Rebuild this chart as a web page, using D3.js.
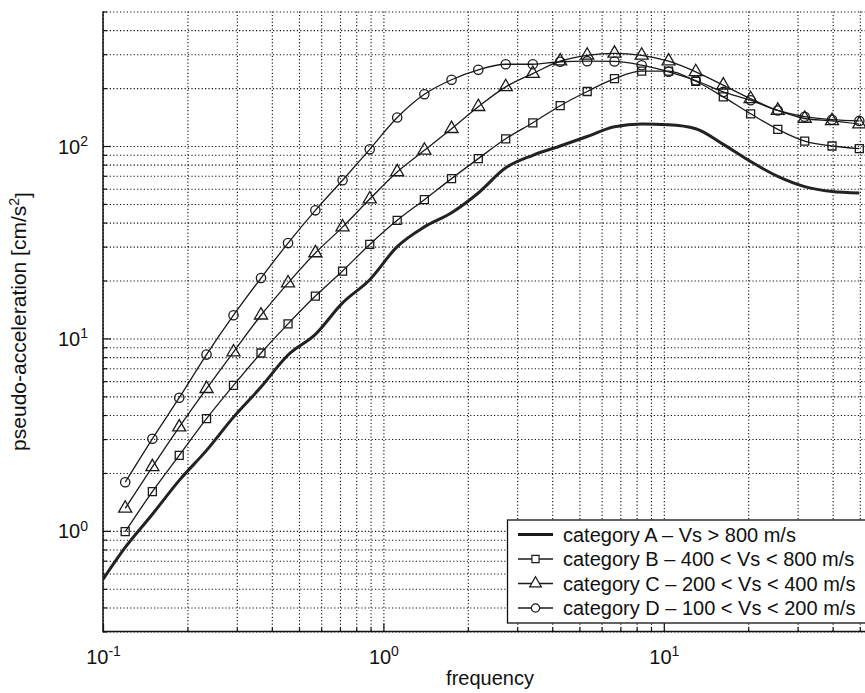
<!DOCTYPE html>
<html>
<head>
<meta charset="utf-8">
<script src="https://cdn.jsdelivr.net/npm/d3@7"></script>
<style>
body { margin: 0; background: #fff; }
text { font-family: "Liberation Sans", Arial, sans-serif; fill: #111; }
</style>
</head>
<body>
<script>
// frequencies of the marked curves (B, C, D)
var freq = [0.12, 0.15, 0.187, 0.234, 0.292, 0.366, 0.457, 0.572, 0.715, 0.894,
            1.12, 1.40, 1.75, 2.18, 2.73, 3.41, 4.27, 5.33, 6.67, 8.34,
            10.4, 13.0, 16.3, 20.4, 25.5, 31.8, 39.8, 49.8];

// category A is drawn without markers and starts at the left edge
var freqA = [0.1, 0.12, 0.15, 0.187, 0.234, 0.292, 0.366, 0.457, 0.572, 0.715, 0.894,
             1.12, 1.40, 1.75, 2.18, 2.73, 3.41, 4.27, 5.33, 6.67, 8.34,
             10.4, 13.0, 16.3, 20.4, 25.5, 31.8, 39.8, 49.8];
var valuesA = [0.56, 0.82, 1.22, 1.83, 2.62, 3.9, 5.59, 8.2, 10.5, 15.3, 20.2,
               30, 38, 45, 57, 77, 89.5, 100, 112, 126, 130,
               129, 123, 102, 83, 69.5, 61.5, 58, 57];

var valuesB = [0.99, 1.60, 2.47, 3.83, 5.70, 8.40, 11.9, 16.6, 22.4, 30.8,
               41.1, 52.6, 67.7, 86, 109, 132, 162, 192, 224, 245,
               245, 217, 180, 147, 122, 106, 100, 97];

var valuesC = [1.31, 2.15, 3.46, 5.48, 8.50, 13.2, 19.4, 27.8, 37.9, 53,
               73.3, 95, 123, 160, 203, 238, 276, 296, 303, 296,
               276, 243, 207, 176, 153, 139, 135, 130];

var valuesD = [1.79, 3.01, 4.92, 8.24, 13.2, 20.6, 31.3, 46.3, 66.4, 96.1,
               140.6, 185.7, 221, 249, 266, 266, 274, 276, 275, 263,
               243, 219, 191, 173, 153, 142, 137, 135];

var legendLabels = ["category A \u2013 Vs > 800 m/s",
                    "category B \u2013 400 < Vs < 800 m/s",
                    "category C \u2013 200 < Vs < 400 m/s",
                    "category D \u2013 100 < Vs < 200 m/s"];

var xLabelMajor = [0.1, 1, 10];
var yLabelMajor = [1, 10, 100];

var svgWidth = 865;
var svgHeight = 693;

var plot = { left: 103, top: 11.5, bottom: 631.5, right: 882 };

var svg = d3.select("body").append("svg")
    .attr("width", svgWidth)
    .attr("height", svgHeight);

var x = d3.scaleLog().domain([0.1, 60]).range([plot.left, plot.right]);
var y = d3.scaleLog().domain([0.3, 500]).range([plot.bottom, plot.top]);

var plotH = plot.bottom - plot.top;
var plotW = plot.right - plot.left;

var isMajor = d => Math.abs(Math.log10(d) - Math.round(Math.log10(d))) < 1e-9;

// dotted grid on every decade subdivision
svg.append("g")
    .attr("transform", `translate(0,${plot.bottom})`)
    .call(d3.axisBottom(x).tickValues(x.ticks()).tickSize(-plotH).tickFormat(""))
    .call(g => g.select(".domain").remove())
    .selectAll("line")
    .attr("stroke", "#111")
    .attr("stroke-width", 1.1)
    .attr("stroke-dasharray", "1.2,2.2");

svg.append("g")
    .attr("transform", `translate(${plot.left},0)`)
    .call(d3.axisLeft(y).tickValues(y.ticks()).tickSize(-plotW).tickFormat(""))
    .call(g => g.select(".domain").remove())
    .selectAll("line")
    .attr("stroke", "#111")
    .attr("stroke-width", 1.1)
    .attr("stroke-dasharray", "1.2,2.2");

// inward ticks, minor then major
svg.append("g")
    .attr("transform", `translate(0,${plot.bottom})`)
    .call(d3.axisBottom(x).tickValues(x.ticks().filter(d => !isMajor(d))).tickSize(-4).tickSizeOuter(0).tickFormat(""))
    .call(g => g.select(".domain").remove());
svg.append("g")
    .attr("transform", `translate(0,${plot.bottom})`)
    .call(d3.axisBottom(x).tickValues(xLabelMajor).tickSize(-8).tickSizeOuter(0).tickFormat(""))
    .call(g => g.select(".domain").remove());
svg.append("g")
    .attr("transform", `translate(${plot.left},0)`)
    .call(d3.axisLeft(y).tickValues(y.ticks().filter(d => !isMajor(d))).tickSize(-4).tickSizeOuter(0).tickFormat(""))
    .call(g => g.select(".domain").remove());
svg.append("g")
    .attr("transform", `translate(${plot.left},0)`)
    .call(d3.axisLeft(y).tickValues(yLabelMajor).tickSize(-8).tickSizeOuter(0).tickFormat(""))
    .call(g => g.select(".domain").remove());

svg.selectAll(".tick line").filter(function() { return !this.getAttribute("stroke-dasharray"); })
    .attr("stroke", "#111").attr("stroke-width", 1.2);

// power-of-ten labels
function powerLabel(sel) {
    sel.each(function(d) {
        var t = d3.select(this).text(null);
        t.append("tspan").text("10");
        t.append("tspan").attr("dy", "-0.55em").attr("font-size", "14px")
            .text(Math.round(Math.log10(d)));
    });
}

svg.append("g")
    .attr("transform", `translate(0,${plot.bottom})`)
    .call(d3.axisBottom(x).tickValues(xLabelMajor).tickSize(0).tickFormat(d => d))
    .call(g => g.select(".domain").remove())
    .selectAll("text")
    .attr("font-size", "20px")
    .attr("fill", "#111")
    .attr("dy", null)
    .attr("y", 32)
    .call(powerLabel);

svg.append("g")
    .attr("transform", `translate(${plot.left},0)`)
    .call(d3.axisLeft(y).tickValues(yLabelMajor).tickSize(0).tickPadding(15).tickFormat(d => d))
    .call(g => g.select(".domain").remove())
    .selectAll("text")
    .attr("font-size", "20px")
    .attr("fill", "#111")
    .attr("dy", "0.35em")
    .call(powerLabel);

// axis frame (left and bottom)
svg.append("path")
    .attr("d", `M${plot.left},${plot.top}V${plot.bottom}H${plot.right}`)
    .attr("fill", "none")
    .attr("stroke", "#111")
    .attr("stroke-width", 1.5);

// axis titles
svg.append("text")
    .attr("x", 490)
    .attr("y", 685)
    .attr("text-anchor", "middle")
    .attr("font-size", "20px")
    .text("frequency");

var yTitle = svg.append("text")
    .attr("transform", `translate(26,${(plot.top + plot.bottom) / 2}) rotate(-90)`)
    .attr("text-anchor", "middle")
    .attr("font-size", "21px");
yTitle.append("tspan").text("pseudo-acceleration [cm/s");
yTitle.append("tspan").attr("dy", "-0.5em").attr("font-size", "14px").text("2");
yTitle.append("tspan").attr("dy", "0.5em").text("]");

// curves
svg.append("clipPath").attr("id", "plotclip")
    .append("rect")
    .attr("x", plot.left).attr("y", plot.top)
    .attr("width", plotW).attr("height", plotH);

var lineGen = d3.line()
    .x(d => x(d[0]))
    .y(d => y(d[1]))
    .curve(d3.curveMonotoneX);

var series = [
    { f: freqA, v: valuesA, width: 3, symbol: null },
    { f: freq, v: valuesB, width: 1.3, symbol: d3.symbolSquare, size: 64 },
    { f: freq, v: valuesC, width: 1.3, symbol: d3.symbolTriangle, size: 74 },
    { f: freq, v: valuesD, width: 1.3, symbol: d3.symbolCircle, size: 68 }
];

var curves = svg.append("g").attr("clip-path", "url(#plotclip)");

series.forEach(s => {
    var pts = s.f.map((f, i) => [f, s.v[i]]);
    curves.append("path")
        .datum(pts)
        .attr("d", lineGen)
        .attr("fill", "none")
        .attr("stroke", s.symbol ? "#1a1a1a" : "#222")
        .attr("stroke-width", s.width)
        .attr("stroke-linejoin", "round");
    if (s.symbol) {
        curves.selectAll(null)
            .data(pts)
            .enter()
            .append("path")
            .attr("transform", d => `translate(${x(d[0])},${y(d[1])})`)
            .attr("d", d3.symbol().type(s.symbol).size(s.size))
            .attr("fill", "none")
            .attr("stroke", "#1a1a1a")
            .attr("stroke-width", 1.3);
    }
});

// legend box
var legend = svg.append("g");
legend.append("rect")
    .attr("x", 507.5).attr("y", 520)
    .attr("width", 400).attr("height", 103)
    .attr("fill", "#fff")
    .attr("stroke", "#111")
    .attr("stroke-width", 1.3);

series.forEach((s, i) => {
    var ly = 534.5 + i * 24.5;
    legend.append("line")
        .attr("x1", 518).attr("x2", 553)
        .attr("y1", ly).attr("y2", ly)
        .attr("stroke", "#1a1a1a")
        .attr("stroke-width", s.width);
    if (s.symbol) {
        legend.append("path")
            .attr("transform", `translate(535.5,${ly})`)
            .attr("d", d3.symbol().type(s.symbol).size(s.size * 0.8))
            .attr("fill", "#fff")
            .attr("stroke", "#1a1a1a")
            .attr("stroke-width", 1.2);
    }
    legend.append("text")
        .attr("x", 563)
        .attr("y", ly + 7)
        .attr("font-size", "20px")
        .text(legendLabels[i]);
});
</script>
</body>
</html>
